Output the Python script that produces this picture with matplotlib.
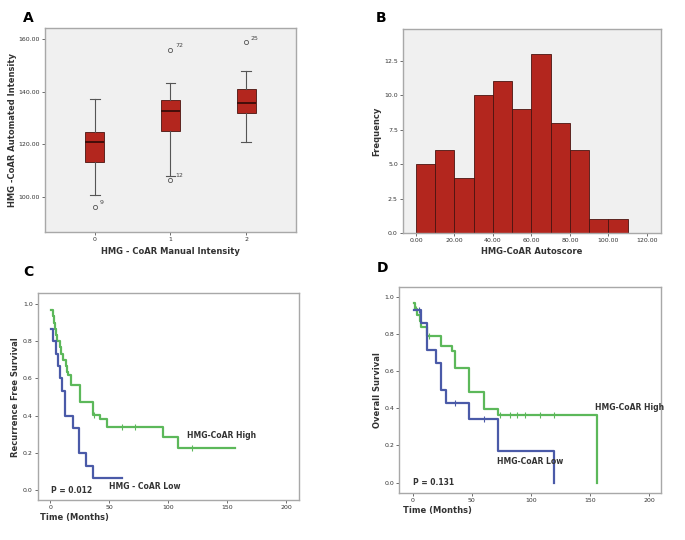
import matplotlib
matplotlib.use("Agg")
import matplotlib.pyplot as plt

# Panel A: box plot stats (HMG-CoAR automated intensity by manual score)
manual_groups = [0, 1, 2]
whisker_lo = [100.8, 108.1, 120.7]
q1 = [113.3, 124.9, 131.9]
medians = [120.7, 132.8, 135.7]
q3 = [124.5, 136.8, 141.0]
whisker_hi = [137.4, 143.2, 147.9]
outliers = [[96.2], [106.5, 156.0], [158.7]]
outlier_ids = [["9"], ["12", "72"], ["25"]]

# Panel B: histogram of autoscore
bin_lefts = [0, 10, 20, 30, 40, 50, 60, 70, 80, 90, 100]
bin_counts = [5, 6, 4, 10, 11, 9, 13, 8, 6, 1, 1]
b_xticks = [0, 20, 40, 60, 80, 100, 120]
b_xticklabels = ["0.00", "20.00", "40.00", "60.00", "80.00", "100.00", "120.00"]
b_yticks = [0, 2.5, 5.0, 7.5, 10.0, 12.5]

# Panel C: recurrence free survival
c_high_t = [1, 2, 3, 4, 5, 6, 8, 9, 11, 13, 14, 15, 18, 25, 36, 42, 48, 96, 108, 157]
c_high_s = [0.967, 0.933, 0.90, 0.867, 0.833, 0.80, 0.767, 0.733, 0.70, 0.667, 0.633,
            0.617, 0.567, 0.475, 0.405, 0.383, 0.342, 0.285, 0.228, 0.228]
c_high_cens_t = [37, 61, 72, 120]
c_high_cens_s = [0.405, 0.342, 0.342, 0.228]
c_low_t = [1, 2.5, 4.5, 6.5, 8, 10, 12.3, 19.5, 24, 30, 36.5, 61]
c_low_s = [0.867, 0.80, 0.733, 0.667, 0.60, 0.533, 0.40, 0.333, 0.20, 0.133, 0.067, 0.067]

# Panel D: overall survival
d_high_t = [1, 2, 4, 6, 7.5, 12, 24, 33, 36, 48, 60, 72, 156, 156]
d_high_s = [0.968, 0.935, 0.903, 0.871, 0.839, 0.79, 0.735, 0.71, 0.617, 0.49, 0.395,
            0.363, 0.363, 0.0]
d_high_cens_t = [3, 14, 74, 82, 88, 95, 108, 120]
d_high_cens_s = [0.935, 0.79, 0.363, 0.363, 0.363, 0.363, 0.363, 0.363]
d_low_t = [1, 7, 12, 20, 24, 28, 48, 72, 120, 120]
d_low_s = [0.929, 0.857, 0.714, 0.643, 0.50, 0.429, 0.343, 0.171, 0.171, 0.0]
d_low_cens_t = [5, 36, 60]
d_low_cens_s = [0.929, 0.429, 0.343]

surv_ticks = [0.0, 0.2, 0.4, 0.6, 0.8, 1.0]
time_ticks = [0, 50, 100, 150, 200]

RED = "#b3261e"
RED_EDGE = "#4a1410"
GREEN = "#5cb85a"
BLUE = "#4a5aa8"
FRAME = "#a8a8a8"
PANEL_BG = "#f0f0f0"
TICK_FS = 4.5
LABEL_FS = 6


def style_axes(ax, bg):
    ax.set_facecolor(bg)
    for sp in ax.spines.values():
        sp.set_color(FRAME)
        sp.set_linewidth(1.0)
    ax.tick_params(labelsize=TICK_FS, length=2, width=0.6, color="#555555",
                   labelcolor="#333333", pad=1.5)


fig = plt.figure(figsize=(6.85, 5.4), dpi=100)
fig.patch.set_facecolor("white")

# ---- A: boxplot
ax_a = fig.add_axes([0.0657, 0.5704, 0.3664, 0.3778])
style_axes(ax_a, PANEL_BG)
stats = []
for i in range(len(manual_groups)):
    stats.append({"med": medians[i], "q1": q1[i], "q3": q3[i], "whislo": whisker_lo[i],
                  "whishi": whisker_hi[i], "fliers": outliers[i]})
ax_a.bxp(stats, positions=manual_groups, widths=0.25, patch_artist=True,
         boxprops=dict(facecolor=RED, edgecolor=RED_EDGE, linewidth=0.6),
         medianprops=dict(color="#3a0c08", linewidth=1.3),
         whiskerprops=dict(color="#555555", linewidth=0.8),
         capprops=dict(color="#555555", linewidth=0.8),
         flierprops=dict(marker="o", markersize=3, markerfacecolor="none",
                         markeredgecolor="#555555", markeredgewidth=0.6))
for i, g in enumerate(manual_groups):
    for v, lab in zip(outliers[i], outlier_ids[i]):
        ax_a.text(g + 0.06, v + 0.6, lab, fontsize=4.5, color="#444444", va="bottom")
ax_a.set_xlim(-0.66, 2.66)
ax_a.set_ylim(86.7, 164.2)
ax_a.set_xticks(manual_groups)
ax_a.set_xticklabels([str(g) for g in manual_groups])
ax_a.set_yticks([100, 120, 140, 160])
ax_a.set_yticklabels(["100.00", "120.00", "140.00", "160.00"])
ax_a.set_xlabel("HMG - CoAR Manual Intensity", fontsize=LABEL_FS, fontweight="bold",
                color="#333333", labelpad=4)
ax_a.set_ylabel("HMG -CoAR Automated Intensity", fontsize=LABEL_FS, fontweight="bold",
                color="#333333", labelpad=1)

# ---- B: histogram
ax_b = fig.add_axes([0.5879, 0.5685, 0.3771, 0.3778])
style_axes(ax_b, PANEL_BG)
ax_b.bar(bin_lefts, bin_counts, width=10, align="edge", color=RED, edgecolor=RED_EDGE,
         linewidth=0.6)
ax_b.set_xlim(-6.9, 127.3)
ax_b.set_ylim(0, 14.8)
ax_b.set_xticks(b_xticks)
ax_b.set_xticklabels(b_xticklabels)
ax_b.set_yticks(b_yticks)
ax_b.set_yticklabels(["0.0", "2.5", "5.0", "7.5", "10.0", "12.5"])
ax_b.set_xlabel("HMG-CoAR Autoscore", fontsize=LABEL_FS, fontweight="bold",
                color="#333333", labelpad=3)
ax_b.set_ylabel("Frequency", fontsize=LABEL_FS, fontweight="bold", color="#333333",
                labelpad=2)

# ---- C: recurrence free survival
ax_c = fig.add_axes([0.055, 0.0741, 0.3819, 0.3828])
style_axes(ax_c, "white")
ax_c.step(c_high_t, c_high_s, where="post", color=GREEN, linewidth=1.6)
ax_c.plot(c_high_cens_t, c_high_cens_s, linestyle="none", marker="|", markersize=4,
          color=GREEN, markeredgewidth=0.8)
ax_c.step(c_low_t, c_low_s, where="post", color=BLUE, linewidth=1.6)
ax_c.set_xlim(-10.7, 211.3)
ax_c.set_ylim(-0.052, 1.057)
ax_c.set_xticks(time_ticks)
ax_c.set_yticks(surv_ticks)
ax_c.set_yticklabels(["0.0", "0.2", "0.4", "0.6", "0.8", "1.0"])
ax_c.text(116, 0.293, "HMG-CoAR High", fontsize=5.5, fontweight="bold", color="#333333",
          va="center")
ax_c.text(50, 0.02, "HMG - CoAR Low", fontsize=5.5, fontweight="bold", color="#333333",
          va="center")
ax_c.text(0.3, 0.0, "P = 0.012", fontsize=5.5, fontweight="bold", color="#333333",
          va="center")
ax_c.set_xlabel("Time (Months)", fontsize=LABEL_FS, fontweight="bold", color="#333333",
                ha="left")
ax_c.xaxis.set_label_coords(0.01, -0.065)
ax_c.set_ylabel("Recurrence Free Survival", fontsize=LABEL_FS, fontweight="bold",
                color="#333333", labelpad=2)

# ---- D: overall survival
ax_d = fig.add_axes([0.5829, 0.0876, 0.382, 0.3815])
style_axes(ax_d, "white")
ax_d.step(d_high_t, d_high_s, where="post", color=GREEN, linewidth=1.6)
ax_d.plot(d_high_cens_t, d_high_cens_s, linestyle="none", marker="|", markersize=4,
          color=GREEN, markeredgewidth=0.8)
ax_d.step(d_low_t, d_low_s, where="post", color=BLUE, linewidth=1.6)
ax_d.plot(d_low_cens_t, d_low_cens_s, linestyle="none", marker="|", markersize=4,
          color=BLUE, markeredgewidth=0.8)
ax_d.set_xlim(-11.3, 210.2)
ax_d.set_ylim(-0.054, 1.054)
ax_d.set_xticks(time_ticks)
ax_d.set_yticks(surv_ticks)
ax_d.set_yticklabels(["0.0", "0.2", "0.4", "0.6", "0.8", "1.0"])
ax_d.text(154, 0.405, "HMG-CoAR High", fontsize=5.5, fontweight="bold", color="#333333",
          va="center")
ax_d.text(71, 0.113, "HMG-CoAR Low", fontsize=5.5, fontweight="bold", color="#333333",
          va="center")
ax_d.text(0.5, 0.0, "P = 0.131", fontsize=5.5, fontweight="bold", color="#333333",
          va="center")
ax_d.set_xlabel("Time (Months)", fontsize=LABEL_FS, fontweight="bold", color="#333333",
                ha="left")
ax_d.xaxis.set_label_coords(0.015, -0.065)
ax_d.set_ylabel("Overall Survival", fontsize=LABEL_FS, fontweight="bold",
                color="#333333", labelpad=2)

# panel letters
for lab, x, y in [("A", 28, 18), ("B", 381, 18), ("C", 28, 272), ("D", 383, 268)]:
    fig.text(x / 685, 1 - y / 540, lab, fontsize=10, fontweight="bold", ha="center",
             va="center")

fig.savefig("out.png", dpi=100)
